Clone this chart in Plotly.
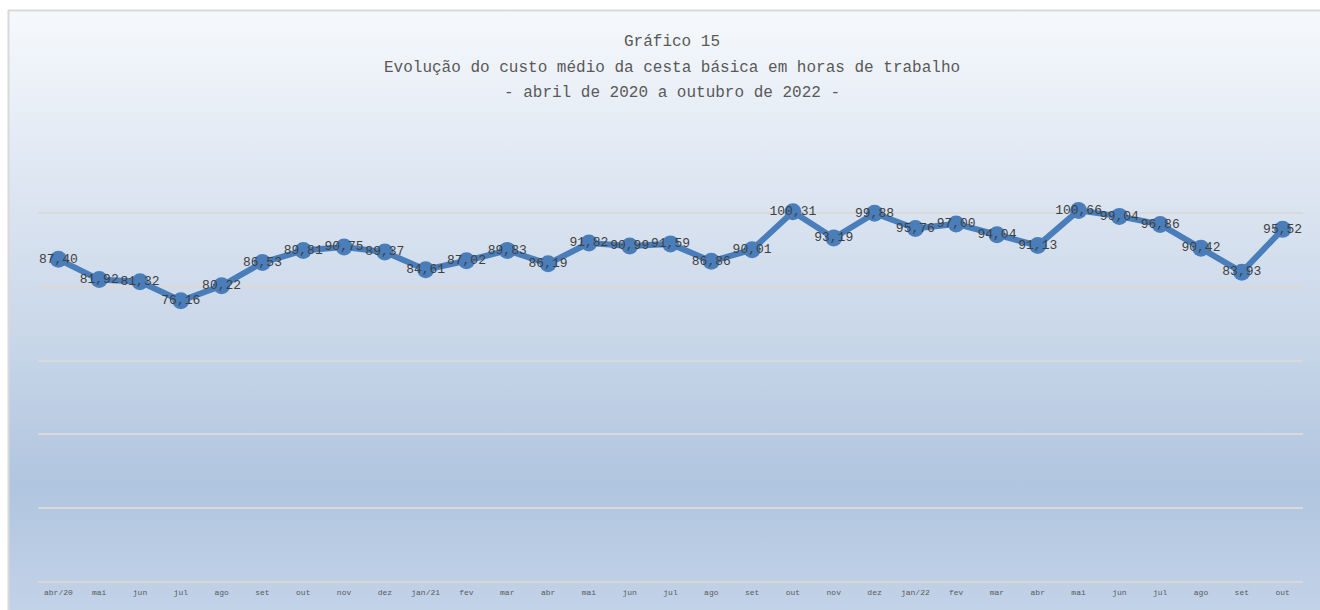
import base64
import plotly.graph_objects as go

months = ["abr/20", "mai", "jun", "jul", "ago", "set", "out", "nov", "dez", "jan/21",
          "fev", "mar", "abr", "mai", "jun", "jul", "ago", "set", "out", "nov",
          "dez", "jan/22", "fev", "mar", "abr", "mai", "jun", "jul", "ago", "set", "out"]
hours = [87.40, 81.92, 81.32, 76.16, 80.22, 86.53, 89.81, 90.75, 89.37, 84.61,
         87.02, 89.83, 86.19, 91.82, 90.99, 91.59, 86.86, 90.01, 100.31, 93.19,
         99.88, 95.76, 97.00, 94.04, 91.13, 100.66, 99.04, 96.86, 90.42, 83.93, 95.52]
title_lines = ["Gráfico 15",
               "Evolução do custo médio da cesta básica em horas de trabalho",
               "- abril de 2020 a outubro de 2022 -"]

W, H = 1320, 610
L, R, T, B = 38, 17, 139, 28
pw, ph = W - L - R, H - T - B


def px_x(p):
    return (p - L) / pw


def px_y(p):
    return (H - B - p) / ph


xs = list(range(len(months)))
labels = [f"{v:.2f}".replace(".", ",") for v in hours]
blue = "#4a7ebb"

svg = '''<svg xmlns="http://www.w3.org/2000/svg" width="1322" height="610" viewBox="0 0 1322 610" preserveAspectRatio="none">
<defs><linearGradient id="g" x1="0" y1="0" x2="0" y2="1">
<stop offset="0" stop-color="#f6f9fc"/>
<stop offset="0.25" stop-color="#e0e8f3"/>
<stop offset="0.5" stop-color="#ccd9ea"/>
<stop offset="0.78" stop-color="#b0c5df"/>
<stop offset="1" stop-color="#c4d4e9"/>
</linearGradient></defs>
<rect x="0" y="0" width="1322" height="610" fill="url(#g)"/>
</svg>'''
src = "data:image/svg+xml;base64," + base64.b64encode(svg.encode()).decode()

fig = go.Figure()
fig.add_trace(go.Scatter(
    x=xs, y=hours, mode="lines+markers+text",
    line=dict(color=blue, width=6),
    marker=dict(color=blue, size=17),
    text=labels, textposition="middle center",
    textfont=dict(family="Liberation Mono", size=13, color="#404040"),
    cliponaxis=False, hoverinfo="skip", showlegend=False,
))

annotations = []
for line, py in zip(title_lines, [42, 68, 93]):
    annotations.append(dict(
        text=line, x=px_x(672), y=px_y(py), xref="paper", yref="paper",
        xanchor="center", yanchor="middle", showarrow=False,
        font=dict(family="Liberation Mono", size=16, color="#595959"),
    ))

fig.update_layout(
    width=W, height=H,
    margin=dict(l=L, r=R, t=T, b=B),
    paper_bgcolor="white", plot_bgcolor="rgba(0,0,0,0)",
    annotations=annotations,
    images=[dict(source=src, xref="paper", yref="paper",
                 x=px_x(9), y=px_y(11), sizex=(1331 - 9) / pw, sizey=(621 - 11) / ph,
                 xanchor="left", yanchor="top", sizing="stretch", layer="below")],
    shapes=[
        dict(type="line", xref="paper", yref="paper", x0=px_x(8.5), x1=px_x(8.5),
             y0=px_y(10), y1=px_y(620), line=dict(color="#d9d9d9", width=2)),
        dict(type="line", xref="paper", yref="paper", x0=px_x(8), x1=px_x(1330),
             y0=px_y(10.5), y1=px_y(10.5), line=dict(color="#d9d9d9", width=2)),
    ],
    xaxis=dict(
        range=[-0.5, len(months) - 0.5], tickmode="array", tickvals=xs, ticktext=months,
        showgrid=False, zeroline=False, showline=False,
        ticks="outside", ticklen=2, tickcolor="rgba(0,0,0,0)",
        tickfont=dict(family="Liberation Mono", size=8, color="#595959"),
        fixedrange=True,
    ),
    yaxis=dict(
        range=[0, 120], dtick=20, showticklabels=False, ticks="",
        showgrid=True, gridcolor="#d9d9d9", gridwidth=2,
        zeroline=True, zerolinecolor="#d9d9d9", zerolinewidth=2,
        showline=False, fixedrange=True,
    ),
)

fig.write_html(
    "out.html",
    config={"displayModeBar": False},
    post_script="document.body.style.margin='0';document.body.style.overflow='hidden';",
)
